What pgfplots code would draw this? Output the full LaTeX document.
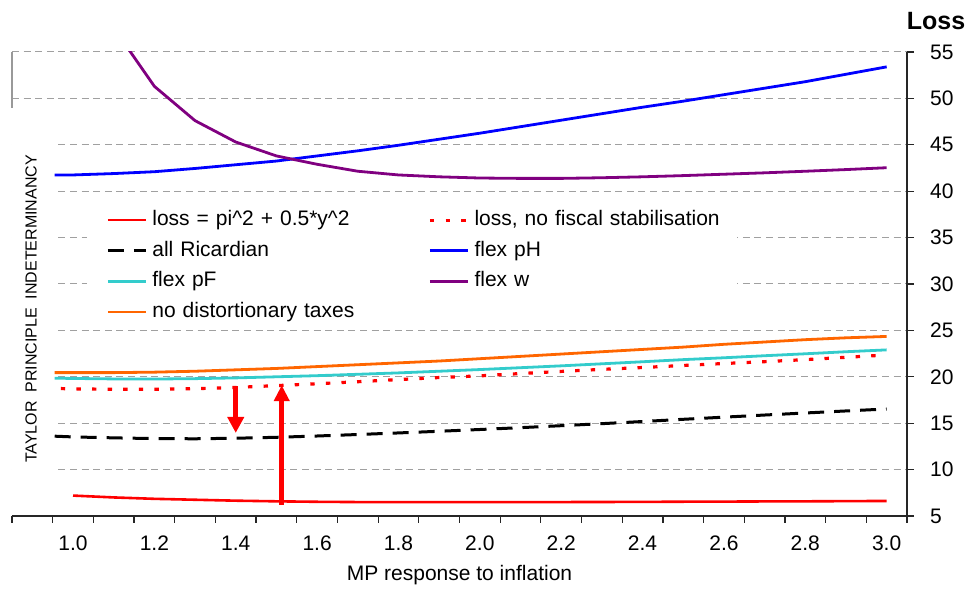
\documentclass[border=0pt]{standalone}
\usepackage{pgfplots}
\pgfplotsset{compat=1.18}
\usepackage{fontspec}
\setmainfont{Liberation Sans}
\usetikzlibrary{arrows.meta}
\definecolor{flexpF}{RGB}{51,204,204}
\definecolor{flexw}{RGB}{128,0,128}
\definecolor{notax}{RGB}{255,102,0}
\definecolor{gridgray}{RGB}{160,160,160}

\begin{document}
\begin{tikzpicture}
\begin{axis}[
    name=ax, at={(0,0)}, anchor=south west,
    scale only axis, width=447.5pt, height=232pt,
    xmin=0.85, xmax=3.05, ymin=5, ymax=55,
    axis x line*=bottom, axis y line*=right,
    axis line style={black!85, line width=0.6pt},
    xtick={1.0,1.2,...,3.0},
    minor xtick={0.85,0.95,...,3.05},
    ytick={5,10,...,55},
    tick align=outside,
    major tick length=3.5pt, minor tick length=3.5pt,
    major x tick style={draw=none},
    tick style={black!85, line width=0.6pt},
    ymajorgrids,
    major grid style={gridgray, dash pattern=on 3.5pt off 2.3pt, line width=0.5pt},
    tick label style={font=\fontsize{10.5}{12}\selectfont},
    /pgf/number format/assume math mode=true,
    xticklabel style={yshift=-3pt, /pgf/number format/.cd, fixed, fixed zerofill, precision=1},
    yticklabel style={xshift=4.5pt},
    xlabel={MP response to inflation},
    xlabel style={at={(axis description cs:0.5,0)}, anchor=center, yshift=-29.5pt,
                  font=\fontsize{10.5}{12}\selectfont},
    legend columns=2,
    legend cell align=left,
    legend image code/.code={\draw[#1] (0pt,0pt) -- (19pt,0pt);},
    legend style={at={(0.105,0.661)}, anchor=north west, draw=none, fill=none,
        inner sep=0pt, row sep=4.8pt, font=\fontsize{10.5}{12}\selectfont,
        nodes={inner sep=0pt, text width=138pt, align=left, text height=8pt, text depth=2.5pt},
        /tikz/every odd column/.append style={column sep=2.5pt}},
]

% white text box hiding the grid at the left
\fill[white] (axis cs:0.85,5.3) rectangle (axis cs:0.9595,49);
% white background of the legend
\fill[white] (axis cs:1.034,25.9) rectangle (axis cs:2.631,39.3);

% loss = pi^2 + 0.5*y^2
\addplot[red, line width=1.3pt] table {
x y
1.00 7.20
1.10 7.00
1.20 6.85
1.30 6.75
1.40 6.65
1.50 6.58
1.60 6.53
1.70 6.50
1.80 6.50
1.90 6.49
2.00 6.49
2.10 6.50
2.20 6.50
2.30 6.51
2.40 6.52
2.50 6.54
2.60 6.55
2.70 6.57
2.80 6.58
2.90 6.60
3.00 6.62
};
% loss, no fiscal stabilisation
\addplot[red, line width=1.6pt, dash pattern=on 2.2pt off 5.6pt] table {
x y
0.97 18.73
1.00 18.70
1.10 18.65
1.20 18.66
1.30 18.72
1.40 18.85
1.50 19.05
1.60 19.25
1.70 19.47
1.80 19.70
1.90 19.92
2.00 20.10
2.10 20.35
2.20 20.58
2.30 20.80
2.40 21.00
2.50 21.22
2.60 21.43
2.70 21.63
2.80 21.85
2.90 22.10
3.00 22.35
};
% all Ricardian
\addplot[black, line width=1.5pt, dash pattern=on 8pt off 5pt] table {
x y
0.955 13.60
1.00 13.52
1.10 13.42
1.20 13.34
1.30 13.32
1.40 13.38
1.50 13.48
1.60 13.62
1.70 13.78
1.80 13.95
1.90 14.13
2.00 14.32
2.10 14.52
2.20 14.73
2.30 14.95
2.40 15.18
2.50 15.42
2.60 15.65
2.70 15.88
2.80 16.10
2.90 16.32
3.00 16.53
};
% flex pH
\addplot[blue, line width=1.4pt] table {
x y
0.955 41.75
1.00 41.75
1.10 41.90
1.20 42.10
1.30 42.45
1.40 42.85
1.50 43.25
1.60 43.80
1.70 44.35
1.80 44.95
1.90 45.60
2.00 46.25
2.10 46.95
2.20 47.65
2.30 48.35
2.40 49.05
2.50 49.70
2.60 50.40
2.70 51.10
2.80 51.80
2.90 52.60
3.00 53.40
};
% flex pF
\addplot[flexpF, line width=1.4pt] table {
x y
0.955 19.85
1.00 19.82
1.10 19.77
1.20 19.76
1.30 19.80
1.40 19.88
1.50 20.00
1.60 20.12
1.70 20.27
1.80 20.42
1.90 20.60
2.00 20.78
2.10 20.98
2.20 21.18
2.30 21.40
2.40 21.62
2.50 21.85
2.60 22.05
2.70 22.27
2.80 22.48
2.90 22.70
3.00 22.90
};
% flex w
\addplot[flexw, line width=1.4pt] table {
x y
1.00 66.00
1.10 57.60
1.20 51.30
1.30 47.60
1.40 45.30
1.50 43.80
1.60 42.90
1.70 42.15
1.80 41.75
1.90 41.55
2.00 41.42
2.10 41.38
2.20 41.38
2.30 41.45
2.40 41.55
2.50 41.68
2.60 41.83
2.70 41.98
2.80 42.15
2.90 42.33
3.00 42.53
};
% no distortionary taxes
\addplot[notax, line width=1.4pt] table {
x y
0.955 20.45
1.00 20.45
1.10 20.45
1.20 20.50
1.30 20.60
1.40 20.75
1.50 20.90
1.60 21.10
1.70 21.30
1.80 21.50
1.90 21.70
2.00 21.95
2.10 22.20
2.20 22.45
2.30 22.70
2.40 22.95
2.50 23.20
2.60 23.50
2.70 23.75
2.80 24.00
2.90 24.20
3.00 24.35
};
\legend{loss = pi\textasciicircum 2 + 0.5*y\textasciicircum 2, {loss, no fiscal stabilisation},
        all Ricardian, flex pH, flex pF, flex w, no distortionary taxes}

% arrows
\draw[red, line width=2.5pt, -{Triangle[width=8pt,length=8pt]}] (axis cs:1.40,19.0) -- (axis cs:1.40,13.95);
\draw[red, line width=2.5pt, -{Triangle[width=7.5pt,length=8pt]}] (axis cs:1.513,6.2) -- (axis cs:1.513,19.1);
\end{axis}

\draw[gray!80, line width=0.6pt] (ax.north west) -- ++(0,-28pt);
\node[font=\bfseries\fontsize{12.5}{15}\selectfont] at ([xshift=14.5pt,yshift=15.5pt]ax.north east) {Loss};
\node[rotate=90, font=\fontsize{8}{9.6}\selectfont] at ([xshift=9.5pt,yshift=-128.5pt]ax.north west)
    {TAYLOR\ \ PRINCIPLE\ \ INDETERMINANCY};

\pgfresetboundingbox
\path (-6pt,-38pt) rectangle (481pt,258pt);
\end{tikzpicture}
\end{document}
